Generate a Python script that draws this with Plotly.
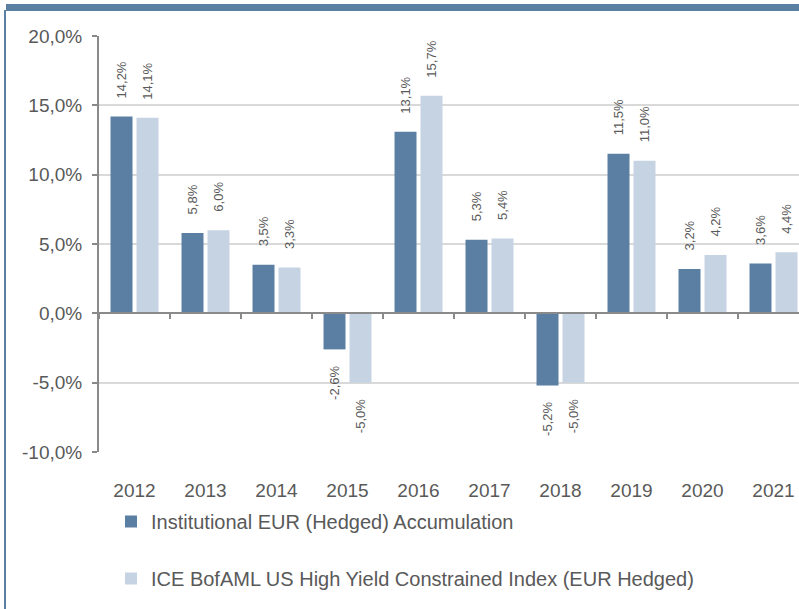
import plotly.graph_objects as go

years = ["2012", "2013", "2014", "2015", "2016", "2017", "2018", "2019", "2020", "2021"]
fund_values = [14.2, 5.8, 3.5, -2.6, 13.1, 5.3, -5.2, 11.5, 3.2, 3.6]
index_values = [14.1, 6.0, 3.3, -5.0, 15.7, 5.4, -5.0, 11.0, 4.2, 4.4]
fund_name = "Institutional EUR (Hedged) Accumulation"
index_name = "ICE BofAML US High Yield Constrained Index (EUR Hedged)"
y_ticks = [-10, -5, 0, 5, 10, 15, 20]
y_tick_labels = ["-10,0%", "-5,0%", "0,0%", "5,0%", "10,0%", "15,0%", "20,0%"]

DARK = "#5B7FA3"
LIGHT = "#C5D3E3"
TXT = "#595959"
FONT = "Liberation Sans, Arial, sans-serif"

W, H = 799, 609
L, T, B = 99, 36, 157
plot_w = W - L
cat_w = 71.0
x_max = -0.5 + plot_w / cat_w


def fmt(v):
    return f"{v:.1f}".replace(".", ",") + "%"


fig = go.Figure()
fig.add_trace(go.Bar(x=years, y=fund_values, name=fund_name, marker_color=DARK,
                     legend="legend", hoverinfo="x+y"))
fig.add_trace(go.Bar(x=years, y=index_values, name=index_name, marker_color=LIGHT,
                     legend="legend2", hoverinfo="x+y"))

annotations = []
for vals, shift in ((fund_values, -13), (index_values, 13)):
    for i, v in enumerate(vals):
        annotations.append(dict(
            x=i, y=v, xref="x", yref="y", text=fmt(v), showarrow=False,
            textangle=-90, xshift=shift,
            yanchor="bottom" if v >= 0 else "top",
            yshift=16 if v >= 0 else -15,
            font=dict(family=FONT, size=13, color=TXT),
        ))


def px_x(p):
    return (p - L) / plot_w


def px_y(p):
    return (H - B - p) / (H - T - B)


shapes = [
    dict(type="rect", xref="paper", yref="paper", x0=px_x(6), x1=px_x(W + 5),
         y0=px_y(11), y1=px_y(4), fillcolor=DARK, line_width=0, layer="above"),
    dict(type="rect", xref="paper", yref="paper", x0=px_x(4), x1=px_x(6),
         y0=px_y(H + 5), y1=px_y(10), fillcolor=DARK, line_width=0, layer="above"),
]

fig.update_layout(
    template="none",
    width=W, height=H,
    margin=dict(l=L, r=0, t=T, b=B, pad=0, autoexpand=False),
    paper_bgcolor="white", plot_bgcolor="white",
    barmode="group", bargap=0.268, bargroupgap=0.154,
    font=dict(family=FONT, color=TXT, size=19),
    annotations=annotations,
    shapes=shapes,
    showlegend=True,
    legend=dict(xref="container", yref="container", x=111 / W, y=1 - 521.5 / H,
                xanchor="left", yanchor="middle", bgcolor="rgba(0,0,0,0)",
                font=dict(family=FONT, size=20, color=TXT)),
    legend2=dict(xref="container", yref="container", x=111 / W, y=1 - 578.5 / H,
                 xanchor="left", yanchor="middle", bgcolor="rgba(0,0,0,0)",
                 font=dict(family=FONT, size=20, color=TXT)),
    xaxis=dict(
        type="category", categoryorder="array", categoryarray=years,
        range=[-0.5, x_max], autorange=False, automargin=False,
        anchor="free", position=10 / 30,
        showline=True, linecolor="#8A8A8A", linewidth=2,
        ticks="outside", tickson="boundaries", ticklen=5, tickwidth=1.5, tickcolor="#8A8A8A",
        showgrid=False, zeroline=False, ticklabelstandoff=160, tickangle=0,
        tickfont=dict(family=FONT, size=19, color=TXT),
    ),
    yaxis=dict(
        range=[-10, 20], autorange=False, automargin=False,
        tickmode="array", tickvals=y_ticks, ticktext=y_tick_labels,
        showline=True, linecolor="#8A8A8A", linewidth=2,
        ticks="outside", ticklen=5, tickwidth=1.5, tickcolor="#8A8A8A",
        showgrid=True, gridcolor="#D9D9D9", gridwidth=1.5,
        zeroline=False, ticklabelstandoff=6,
        tickfont=dict(family=FONT, size=19, color=TXT),
    ),
)

fig.write_html("out.html", config={"displayModeBar": False},
               post_script="document.body.style.margin='0';document.body.style.overflow='hidden';")
